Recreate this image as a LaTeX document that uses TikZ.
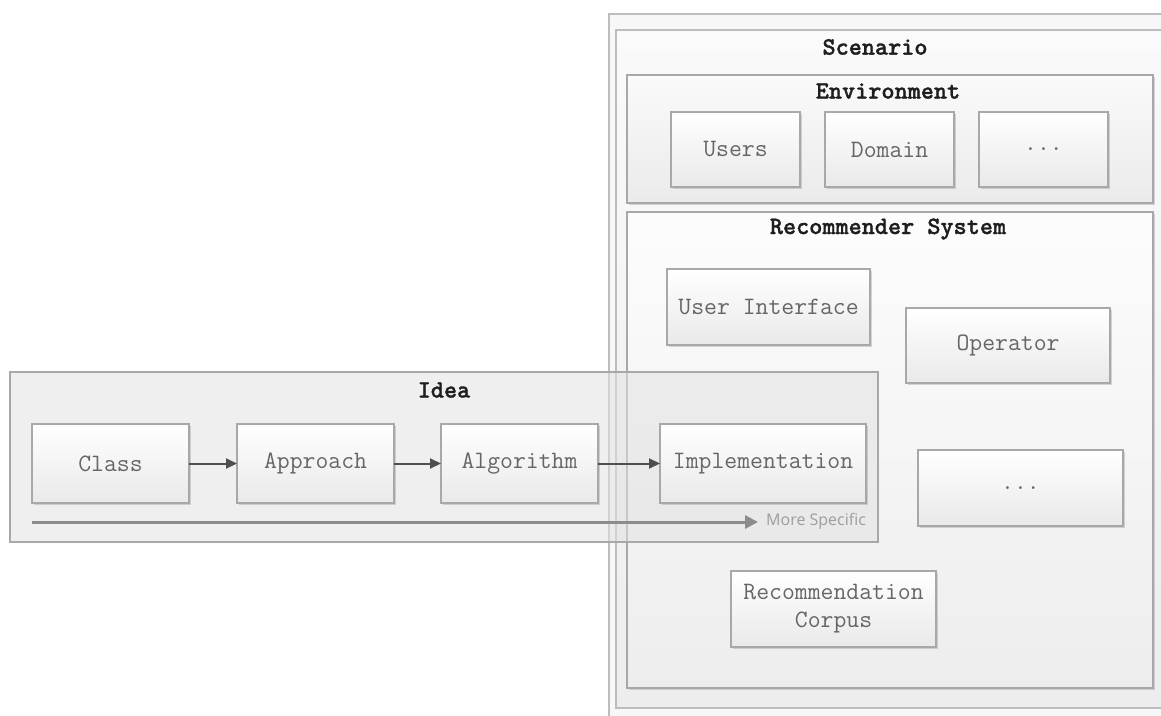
\documentclass[tikz,border=0pt]{standalone}
\usepackage{fontspec}
\newfontfamily\notefont{Open Sans}
\newfontfamily\titlefont{lmmonolt10-bold.otf}[FakeBold=1.2]
\usetikzlibrary{arrows.meta,shadows}
\definecolor{edgegray}{HTML}{A8A8A8}
\definecolor{framegray}{HTML}{BDBDBD}
\definecolor{boxbottom}{HTML}{E9E9E9}
\definecolor{txtgray}{HTML}{666666}
\definecolor{titleink}{HTML}{1E1E1E}
\definecolor{arrowink}{HTML}{4E4E4E}
\definecolor{noteink}{HTML}{8C8C8C}
\definecolor{ideafill}{HTML}{E2E2E2}
\begin{document}
\begin{tikzpicture}[x=1pt,y=-1pt,
  softshadow/.style={drop shadow={shadow xshift=1.5pt,shadow yshift=-1.5pt,opacity=0.3,fill=black!50}},
  frame/.style={draw=framegray,line width=1.6pt,inner sep=0pt,outer sep=0pt,anchor=north west},
  panel/.style={draw=edgegray,line width=1.4pt,inner sep=0pt,outer sep=0pt,anchor=north west,softshadow},
  box/.style={draw=edgegray,line width=1.2pt,top color=white,bottom color=boxbottom,
    inner sep=0pt,outer sep=0pt,anchor=north west,align=center,text=txtgray,
    font=\fontsize{25}{28}\selectfont\ttfamily,softshadow},
  title/.style={font=\fontsize{25}{28}\selectfont\titlefont,text=titleink,inner sep=0pt},
  flow/.style={draw=arrowink,line width=2pt,-{Triangle[length=11pt,width=10pt]}},
  specific/.style={draw=noteink,line width=3pt,-{Triangle[length=13pt,width=13pt]}}]
\useasboundingbox (0,0) rectangle (1161,715);
\begin{scope}
\clip (0,0) rectangle (1161,715);

% scenario frames
\node[frame,fill=white!97!black,minimum width=620,minimum height=760] (outer) at (609,14) {};
\node[frame,top color=white!98!black,bottom color=white!93!black,minimum width=600,minimum height=678] (scenario) at (616,30) {};
\node[title] (scentitle) at (875,47) {Scenario};

% environment
\node[panel,top color=white!98!black,bottom color=white!92!black,minimum width=526,minimum height=128] (env) at (627,75) {};
\node[title] (envtitle) at (888,91) {Environment};
\node[box,minimum width=129,minimum height=75] (users) at (671,112) {Users};
\node[box,minimum width=129,minimum height=75] (domain) at (825,112) {Domain};
\node[box,minimum width=129,minimum height=75] (envmore) at (979,112) {...};

% recommender system
\node[panel,top color=white!99!black,bottom color=white!93!black,minimum width=526,minimum height=476] (rec) at (627,212) {};
\node[title] (rectitle) at (888,229) {Recommender System};
\node[box,minimum width=203,minimum height=76] (ui) at (667,269) {User Interface};
\node[box,minimum width=204,minimum height=75] (operator) at (906,308) {Operator};
\node[box,minimum width=205,minimum height=76] (recmore) at (918,450) {...};
\node[box,minimum width=205,minimum height=76] (corpus) at (731,571) {Recommendation\\Corpus};

% idea chain, laid over the scenario
\node[draw=edgegray,line width=1.4pt,fill=ideafill,fill opacity=0.55,inner sep=0pt,outer sep=0pt,
  anchor=north west,minimum width=868,minimum height=170] (idea) at (10,372) {};
\node[title] (ideatitle) at (444,390) {Idea};
\node[box,minimum width=157,minimum height=79] (class) at (32,424) {Class};
\node[box,minimum width=157,minimum height=79] (approach) at (237,424) {Approach};
\node[box,minimum width=157,minimum height=79] (algorithm) at (441,424) {Algorithm};
\node[box,minimum width=206,minimum height=79] (impl) at (660,424) {Implementation};
\draw[flow] (class) -- (approach);
\draw[flow] (approach) -- (algorithm);
\draw[flow] (algorithm) -- (impl);

\coordinate (specstart) at (32,522);
\coordinate (specend) at (758,522);
\draw[specific] (specstart) -- (specend);
\node[anchor=west,inner sep=0pt,text=noteink!85!white,font=\fontsize{16}{18}\selectfont\notefont] (spectext) at (766,521) {More Specific};
\end{scope}
\end{tikzpicture}
\end{document}
